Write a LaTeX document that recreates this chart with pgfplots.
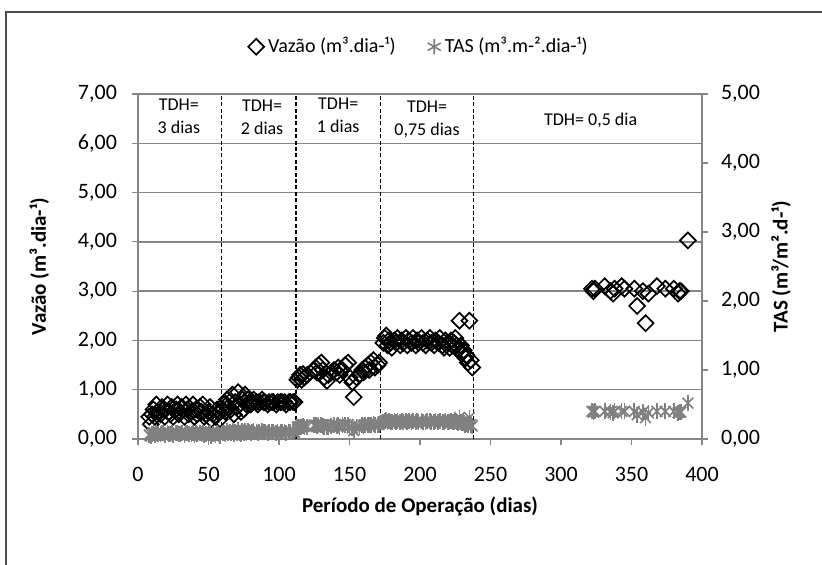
\documentclass[border=0pt]{standalone}
\usepackage{pgfplots}
\usepackage{pgfplotstable}
\pgfplotsset{compat=1.18}
\usepackage{fontspec}
\setmainfont{Carlito}
\definecolor{axgray}{RGB}{134,134,134}
\definecolor{tasgray}{RGB}{128,128,128}

\pgfplotstableread{
x q t
8 0.45 0.06
9 0.30 0.04
10 0.50 0.07
11 0.60 0.08
12 0.45 0.06
13 0.70 0.09
14 0.55 0.07
16 0.50 0.07
17 0.65 0.08
18 0.60 0.08
19 0.45 0.06
21 0.70 0.09
22 0.55 0.07
23 0.50 0.07
24 0.65 0.08
25 0.45 0.06
27 0.60 0.08
28 0.70 0.09
29 0.50 0.07
30 0.55 0.07
31 0.65 0.08
33 0.45 0.06
34 0.70 0.09
35 0.60 0.08
36 0.50 0.07
38 0.55 0.07
39 0.70 0.09
40 0.45 0.06
41 0.60 0.08
42 0.50 0.07
44 0.65 0.08
45 0.55 0.07
46 0.70 0.09
47 0.45 0.06
48 0.50 0.07
50 0.55 0.07
51 0.65 0.08
52 0.40 0.05
53 0.50 0.07
55 0.45 0.06
56 0.60 0.08
57 0.55 0.07
58 0.40 0.05
60 0.60 0.08
61 0.70 0.09
62 0.55 0.07
63 0.80 0.11
64 0.65 0.09
65 0.75 0.10
66 0.60 0.08
67 0.90 0.12
68 0.50 0.07
69 0.75 0.10
70 0.65 0.09
71 0.95 0.13
72 0.70 0.09
73 0.55 0.07
74 0.80 0.11
75 0.60 0.08
76 0.90 0.12
77 0.70 0.09
78 0.80 0.11
79 0.75 0.10
80 0.70 0.09
81 0.75 0.10
82 0.80 0.11
84 0.75 0.10
85 0.70 0.09
86 0.75 0.10
88 0.80 0.11
89 0.75 0.10
90 0.75 0.10
92 0.70 0.09
93 0.75 0.10
95 0.75 0.10
96 0.75 0.10
98 0.70 0.09
99 0.75 0.10
101 0.75 0.10
102 0.75 0.10
104 0.75 0.10
105 0.70 0.09
107 0.75 0.10
108 0.75 0.10
110 0.75 0.10
111 0.75 0.10
113 1.20 0.17
114 1.25 0.18
115 1.30 0.18
116 1.20 0.17
117 1.32 0.19
118 1.25 0.18
120 1.30 0.18
125 1.40 0.20
126 1.45 0.20
127 1.35 0.19
128 1.50 0.21
130 1.55 0.21
131 1.40 0.19
132 1.25 0.18
134 1.18 0.17
135 1.30 0.18
137 1.35 0.19
139 1.40 0.20
141 1.35 0.19
142 1.45 0.20
143 1.30 0.18
145 1.40 0.20
147 1.50 0.21
149 1.55 0.21
150 1.25 0.18
152 1.15 0.16
153 0.85 0.12
155 1.25 0.18
157 1.30 0.18
159 1.40 0.20
160 1.35 0.19
161 1.45 0.20
163 1.50 0.21
164 1.40 0.20
165 1.55 0.21
167 1.60 0.22
168 1.45 0.20
170 1.50 0.21
171 1.55 0.21
174 1.95 0.25
175 2.05 0.26
176 2.10 0.27
177 1.90 0.24
178 2.00 0.26
179 1.95 0.25
180 1.85 0.24
182 2.00 0.26
183 1.95 0.25
184 2.05 0.26
186 1.90 0.24
187 2.00 0.26
188 1.95 0.25
190 2.05 0.26
191 1.90 0.24
192 2.00 0.26
194 1.95 0.25
195 2.05 0.26
197 1.90 0.24
198 2.00 0.26
199 1.95 0.25
201 2.05 0.26
202 1.95 0.25
204 1.90 0.24
205 2.00 0.26
207 2.05 0.26
208 1.95 0.25
210 1.90 0.24
211 2.00 0.26
213 1.95 0.25
214 2.05 0.26
216 1.90 0.24
217 1.85 0.24
218 2.00 0.26
220 1.95 0.25
221 1.85 0.24
222 2.00 0.26
223 1.90 0.24
224 1.95 0.25
225 2.05 0.26
226 1.90 0.24
227 1.80 0.23
228 2.40 0.31
229 1.90 0.24
230 1.75 0.23
231 1.80 0.23
232 1.65 0.21
233 1.70 0.22
234 1.55 0.20
235 2.40 0.31
236 1.60 0.21
237 1.45 0.19
322 3.05 0.40
323 3.00 0.39
324 3.05 0.40
331 3.10 0.40
335 3.00 0.39
337 2.95 0.38
338 3.05 0.40
343 3.10 0.40
345 3.05 0.40
352 3.05 0.40
354 2.70 0.35
358 3.00 0.39
360 2.35 0.31
362 2.95 0.38
368 3.10 0.40
374 3.05 0.40
380 3.05 0.40
383 2.95 0.38
384 3.00 0.39
385 3.00 0.39
390 4.03 0.52
}\datatable

\begin{document}
\begin{tikzpicture}[x=1pt,y=1pt]
\useasboundingbox (0,0) rectangle (411,-282.5);
\draw[line width=0.8pt, black!70] (3,-300) -- (3,-6) -- (430,-6);

\pgfplotsset{
  myaxis/.style={
    at={(69pt,-219.5pt)}, anchor=south west,
    width=282pt, height=172.5pt, scale only axis,
    xmin=0, xmax=400,
    axis line style={axgray, line width=0.7pt},
    tick style={axgray, line width=0.6pt},
    tick align=outside,
    major tick length=3pt,
    ticklabel style={font=\fontsize{11}{13}\selectfont},
    /pgf/number format/assume math mode=true,
    label style={font=\fontsize{10.5}{12}\selectfont\bfseries},
    y tick label style={/pgf/number format/fixed, /pgf/number format/fixed zerofill, /pgf/number format/precision=2, /pgf/number format/use comma},
  }
}

\begin{axis}[
  myaxis,
  ymin=0, ymax=7,
  axis y line*=left, axis x line*=bottom,
  xtick={0,50,...,400},
  ytick={0,1,...,7},
  ymajorgrids,
  grid style={axgray, line width=0.7pt},
  x tick label style={yshift=-7.5pt},
  y tick label style={xshift=-4pt},
  ylabel={Vazão (m³.dia-¹)},
  ylabel style={at={(axis description cs:-0.175,0.5)}, anchor=center},
  xlabel={Período de Operação (dias)},
  xlabel style={at={(axis description cs:0.5,-0.195)}, anchor=center},
  clip=false,
]
\addplot[black, line width=0.6pt, dash pattern=on 2pt off 1.2pt] coordinates {(59,0) (59,7)};
\addplot[black, line width=0.6pt, dash pattern=on 2pt off 1.2pt] coordinates {(112,0) (112,7)};
\addplot[black, line width=0.6pt, dash pattern=on 2pt off 1.2pt] coordinates {(172,0) (172,7)};
\addplot[black, line width=0.6pt, dash pattern=on 2pt off 1.2pt] coordinates {(238,0) (238,7)};
\addplot[only marks, mark=square, mark size=2.8pt, mark options={rotate=45, black, line width=0.85pt, fill=none}] table[x=x, y=q] {\datatable};
\begin{scope}[every node/.style={font=\fontsize{9}{11.5}\selectfont, align=center}]
\node at (axis cs:29,6.55) {TDH=\\3 dias};
\node at (axis cs:88,6.52) {TDH=\\2 dias};
\node at (axis cs:142,6.57) {TDH=\\1 dias};
\node at (axis cs:205,6.48) {TDH=\\0,75 dias};
\node at (axis cs:321,6.46) {TDH= 0,5 dia};
\end{scope}
\end{axis}

\begin{axis}[
  myaxis,
  ymin=0, ymax=5,
  axis y line*=right, axis x line=none,
  ytick={0,1,...,5},
  y tick label style={xshift=3pt},
  ylabel={TAS (m³/m².d-¹)},
  ylabel style={at={(axis description cs:1.14,0.5)}, anchor=center},
  legend style={at={(0.5,1.137)}, anchor=center, draw=none, fill=none,
    font=\fontsize{10}{12}\selectfont, legend columns=2,
    /tikz/every even column/.append style={column sep=14pt}},
  legend cell align=left,
]
\addlegendimage{only marks, mark=square, mark size=2.8pt, mark options={rotate=45, black, line width=0.85pt}}
\addlegendentry{Vazão (m³.dia-¹)}
\addplot[only marks, mark=x, mark size=3.8pt, mark options={tasgray, line width=0.85pt}, forget plot] table[x=x, y=t] {\datatable};
\addplot[only marks, mark=|, mark size=4pt, mark options={tasgray, line width=0.85pt}, forget plot] table[x=x, y=t] {\datatable};
\addlegendimage{only marks, mark=asterisk, mark size=3.8pt, mark options={tasgray, line width=0.8pt}}
\addlegendentry{TAS (m³.m-².dia-¹)}
\end{axis}
\end{tikzpicture}
\end{document}
